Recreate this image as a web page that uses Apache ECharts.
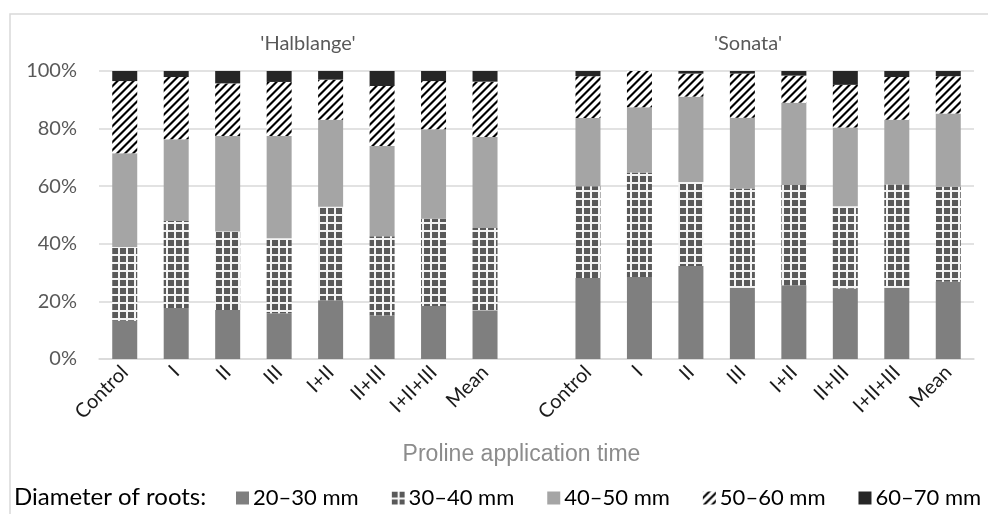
<!DOCTYPE html>
<html>
<head>
<meta charset="utf-8">
<script src="https://cdn.jsdelivr.net/npm/echarts@6/dist/echarts.min.js"></script>
<style>
  html, body { margin: 0; padding: 0; background: #fff; }
  #chart { width: 988px; height: 514px; }
</style>
</head>
<body>
<div id="chart"></div>
<script>
// categories: 8 treatments per cultivar, empty slot between the two groups
const treatments = ['Control', 'I', 'II', 'III', 'I+II', 'II+III', 'I+II+III', 'Mean']
const categories = [...treatments, '', ...treatments]
const groupTitles = ["'Halblange'", "'Sonata'"]
const seriesNames = ['20–30 mm', '30–40 mm', '40–50 mm', '50–60 mm', '60–70 mm']

// shares (%) per diameter class, Halblange then Sonata (null = gap)
const d20_30 = [13.3, 17.7, 17.0, 15.9, 20.4, 15.1, 18.4, 16.9, null, 28.1, 28.5, 32.3, 24.7, 25.6, 24.5, 24.7, 26.8]
const d30_40 = [25.6, 30.2, 27.3, 26.0, 32.5, 27.5, 30.3, 28.6, null, 31.9, 36.3, 29.2, 34.5, 34.8, 28.5, 35.9, 33.0]
const d40_50 = [32.5, 28.4, 33.1, 35.5, 30.2, 31.4, 31.1, 31.6, null, 23.7, 22.6, 29.6, 24.6, 28.6, 27.4, 22.5, 25.4]
const d50_60 = [25.1, 21.6, 18.3, 18.8, 13.9, 20.8, 16.7, 19.2, null, 14.5, 12.6, 8.0, 15.3, 9.4, 14.8, 14.8, 13.0]
const d60_70 = [3.5, 2.1, 4.3, 3.8, 3.0, 5.2, 3.5, 3.7, null, 1.8, 0.0, 0.9, 0.9, 1.6, 4.8, 2.1, 1.8]
const yTicks = [0, 20, 40, 60, 80, 100]

const FONT = 'Lato, "Open Sans", sans-serif'

// Excel-like fill patterns
function gridPattern() {
  const c = document.createElement('canvas')
  c.width = 8; c.height = 8
  const g = c.getContext('2d')
  g.fillStyle = '#f4f4f4'
  g.fillRect(0, 0, 8, 8)
  g.fillStyle = '#595959'
  g.fillRect(0, 0, 6, 6)
  return { image: c, repeat: 'repeat' }
}
function stripePattern() {
  const c = document.createElement('canvas')
  c.width = 8; c.height = 8
  const g = c.getContext('2d')
  g.fillStyle = '#ffffff'
  g.fillRect(0, 0, 8, 8)
  g.fillStyle = '#000000'
  g.beginPath()
  g.moveTo(0, 8); g.lineTo(0, 5); g.lineTo(5, 0); g.lineTo(8, 0); g.closePath(); g.fill()
  g.beginPath()
  g.moveTo(5, 8); g.lineTo(8, 5); g.lineTo(8, 8); g.closePath(); g.fill()
  return { image: c, repeat: 'repeat' }
}

const fills = ['#7f7f7f', gridPattern(), '#a5a5a5', stripePattern(), '#262626']
const values = [d20_30, d30_40, d40_50, d50_60, d60_70]

const chart = echarts.init(document.getElementById('chart'))

chart.setOption({
  animation: false,
  grid: { left: 99, right: 14, top: 71, bottom: 155, containLabel: false },
  graphic: [
    { type: 'rect', shape: { x: 10, y: 14, width: 1000, height: 520 }, style: { fill: 'none', stroke: '#d9d9d9', lineWidth: 1.5 }, silent: true },
    { type: 'text', x: 308, y: 44, style: { text: groupTitles[0], font: '20px ' + FONT, fill: '#595959', textAlign: 'center', textVerticalAlign: 'middle' } },
    { type: 'text', x: 748, y: 44, style: { text: groupTitles[1], font: '20px ' + FONT, fill: '#595959', textAlign: 'center', textVerticalAlign: 'middle' } },
    { type: 'text', x: 14, y: 497, style: { text: 'Diameter of roots:', font: '24px ' + FONT, fill: '#000', textVerticalAlign: 'middle' } },
  ],
  legend: {
    left: 231, top: 482, width: 757,
    itemWidth: 13, itemHeight: 13, itemGap: 33,
    icon: 'rect',
    textStyle: { fontFamily: FONT, fontSize: 22, color: '#000', padding: [0, 0, 0, -1] },
    data: seriesNames,
  },
  xAxis: {
    type: 'category',
    data: categories,
    name: 'Proline application time',
    nameLocation: 'middle',
    nameGap: 84,
    nameTextStyle: { fontFamily: '"Liberation Sans", Arial, sans-serif', fontSize: 23, color: '#8c8c8c', padding: [0, 30, 0, 0] },
    axisLine: { lineStyle: { color: '#d9d9d9', width: 1.5 } },
    axisTick: { show: false },
    axisLabel: { interval: 0, rotate: 45, fontFamily: FONT, fontSize: 20, color: '#1a1a1a', margin: 10 },
  },
  yAxis: {
    type: 'value',
    min: yTicks[0], max: yTicks[yTicks.length - 1], interval: 20,
    axisLine: { show: false },
    axisTick: { show: false },
    axisLabel: { formatter: '{value}%', fontFamily: FONT, fontSize: 20, color: '#595959', margin: 22 },
    splitLine: { lineStyle: { color: '#d9d9d9', width: 1.5 } },
  },
  series: seriesNames.map((name, i) => ({
    name,
    type: 'bar',
    stack: 'total',
    barWidth: 25,
    data: values[i],
    itemStyle: { color: fills[i] },
  })),
})
</script>
</body>
</html>
